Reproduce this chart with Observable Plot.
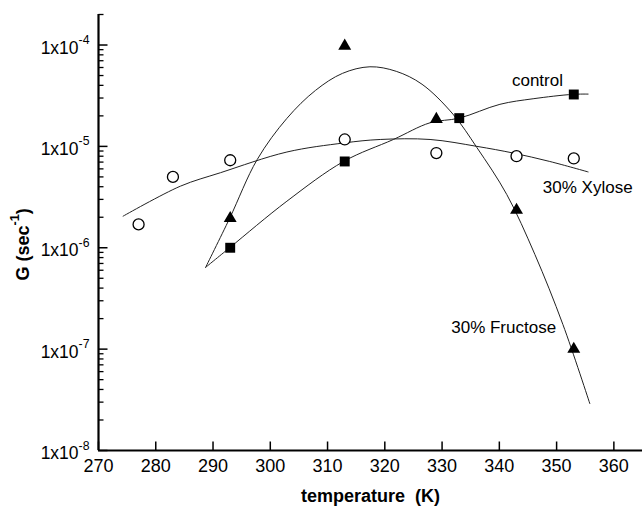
<!DOCTYPE html>
<html><head><meta charset="utf-8">
<script src="https://cdn.jsdelivr.net/npm/d3@7"></script>
<script src="https://cdn.jsdelivr.net/npm/@observablehq/plot@0.6"></script>
<style>body{margin:0;background:#fff} svg{display:block}</style>
</head><body><div id="chart"></div>
<script>
// measured points
const xylT = [277, 283, 293, 313, 329, 343, 353];
const xylG = [1.7e-6, 5.0e-6, 7.3e-6, 1.17e-5, 8.6e-6, 8.0e-6, 7.6e-6];
const ctlT = [293, 313, 333, 353];
const ctlG = [1.0e-6, 7.1e-6, 1.9e-5, 3.25e-5];
const fruT = [293, 313, 329, 343, 353];
const fruG = [1.95e-6, 9.8e-5, 1.85e-5, 2.35e-6, 1.0e-7];
// fitted curves
const xylFitT = [274.3, 284.3, 291.3, 302.9, 312.8, 319.2, 327.9, 336.1, 342.4, 348.8, 355.5];
const xylFitG = [2.05e-6, 4.05e-6, 5.5e-6, 8.8e-6, 1.08e-5, 1.17e-5, 1.17e-5, 1.0e-5, 8.6e-6, 7.1e-6, 5.6e-6];
const ctlFitT = [288.7, 292.9, 302.9, 312.8, 321.5, 327.9, 333.0, 340.1, 345.9, 352.8, 355.5];
const ctlFitG = [6.4e-7, 1.0e-6, 2.88e-6, 7.1e-6, 1.17e-5, 1.71e-5, 1.9e-5, 2.6e-5, 2.95e-5, 3.26e-5, 3.28e-5];
const fruFitT = [288.7, 292.9, 297.7, 302.9, 307.9, 312.6, 317.4, 322.0, 326.5, 331.9, 336.1, 341.3, 346.2, 351.1, 355.8];
const fruFitG = [6.4e-7, 1.95e-6, 7.4e-6, 1.89e-5, 3.57e-5, 5.25e-5, 6.1e-5, 5.5e-5, 4.1e-5, 2.08e-5, 9.7e-6, 3.35e-6, 8.6e-7, 1.75e-7, 2.9e-8];
// series labels (anchored in data coordinates)
const labelText = ["control", "30% Xylose", "30% Fructose"];
const labelT = [342.2, 347.6, 331.6];
const labelG = [4.5e-5, 3.96e-6, 1.65e-7];
// axes
const xDomain = [270, 365];
const yDomain = [1e-8, 2e-4];
const xTicks = [270, 280, 290, 300, 310, 320, 330, 340, 350, 360];
const yTicks = [1e-8, 1e-7, 1e-6, 1e-5, 1e-4];
const yTickLabels = ["1x10^{-8}", "1x10^{-7}", "1x10^{-6}", "1x10^{-5}", "1x10^{-4}"];
const minorMult = [2, 3, 4, 5, 6, 7, 8, 9];
const yMinor = [1e-8, 1e-7, 1e-6, 1e-5, 1e-4].flatMap(d => minorMult.map(m => m * d)).filter(v => v <= 2e-4);
const xTitle = "temperature\u00a0 (K)";
const yTitle = "G (sec^{-1})";
const yTitleAt = [270, 1.08e-6]; // anchor of the rotated y title (data coords)

const rows = (T, G) => T.map((t, i) => ({T: t, G: G[i]}));
const fits = [
  ...rows(xylFitT, xylFitG).map(d => ({...d, s: "xyl"})),
  ...rows(ctlFitT, ctlFitG).map(d => ({...d, s: "ctl"})),
  ...rows(fruFitT, fruFitG).map(d => ({...d, s: "fru"}))
];
const labels = labelText.map((t, i) => ({t, T: labelT[i], G: labelG[i]}));

const W = 642, H = 508, mL = 98, mR = 0, mT = 14, mB = 58;
const fw = W - mL - mR, fh = H - mT - mB;
// convert pixel tick lengths into scale units so the ticks point inward
const kx = (xDomain[1] - xDomain[0]) / fw;
const ky = Math.log10(yDomain[1] / yDomain[0]) / fh;
const xTickLen = 9, yMajLen = 9, yMinLen = 5;
const xTickRows = xTicks.map(t => ({x1: t, x2: t, y1: yDomain[0], y2: yDomain[0] * Math.pow(10, xTickLen * ky)}));
const yMajRows = yTicks.map(v => ({x1: xDomain[0], x2: xDomain[0] + yMajLen * kx, y1: v, y2: v}));
const yMinRows = yMinor.map(v => ({x1: xDomain[0], x2: xDomain[0] + yMinLen * kx, y1: v, y2: v}));

const plot = Plot.plot({
  width: W, height: H,
  marginLeft: mL, marginRight: mR, marginTop: mT, marginBottom: mB,
  style: {fontFamily: "'Liberation Sans', Arial, sans-serif", background: "white", color: "black"},
  x: {domain: xDomain},
  y: {type: "log", domain: yDomain},
  marks: [
    Plot.axisX({ticks: xTicks, tickSize: 0, tickPadding: 9, fontSize: 18, label: null, tickFormat: d => String(d)}),
    Plot.axisY({ticks: yTicks, tickSize: 0, tickPadding: 9, fontSize: 17.5, dy: 3, label: null,
      tickFormat: d => yTickLabels[yTicks.indexOf(d)]}),
    Plot.line(fits, {x: "T", y: "G", z: "s", stroke: "#222", strokeWidth: 1, curve: "catmull-rom"}),
    Plot.dot(rows(xylT, xylG), {x: "T", y: "G", r: 5.5, stroke: "black", fill: "white", strokeWidth: 1.3}),
    Plot.dot(rows(ctlT, ctlG), {x: "T", y: "G", symbol: "square", r: 5.6, fill: "black"}),
    Plot.dot(rows(fruT, fruG), {x: "T", y: "G", symbol: "triangle", r: 4.8, fill: "black"}),
    Plot.text(labels, {x: "T", y: "G", text: "t", textAnchor: "start", fontSize: 17}),
    Plot.text([xTitle], {frameAnchor: "bottom", dy: 51, fontWeight: "bold", fontSize: 18}),
    Plot.text([yTitle], {x: () => yTitleAt[0], y: () => yTitleAt[1], text: d => d, rotate: -90, dx: -75.4,
      fontWeight: "bold", fontSize: 18}),
    // inward tick marks
    Plot.link(xTickRows, {x1: "x1", x2: "x2", y1: "y1", y2: "y2", stroke: "black", strokeWidth: 1.5}),
    Plot.link(yMajRows, {x1: "x1", x2: "x2", y1: "y1", y2: "y2", stroke: "black", strokeWidth: 1.5}),
    Plot.link(yMinRows, {x1: "x1", x2: "x2", y1: "y1", y2: "y2", stroke: "black", strokeWidth: 1.3}),
    Plot.ruleX([xDomain[0]], {strokeWidth: 2.2}),
    Plot.ruleY([yDomain[0]], {strokeWidth: 2.2})
  ]
});

function supify(svg) {
  const ns = "http://www.w3.org/2000/svg";
  svg.querySelectorAll("text").forEach(t => {
    const m = t.textContent.match(/^(.*)\^\{(.*?)\}(.*)$/);
    if (!m) return;
    while (t.firstChild) t.removeChild(t.firstChild);
    const a = document.createElementNS(ns, "tspan"); a.textContent = m[1]; t.appendChild(a);
    const b = document.createElementNS(ns, "tspan"); b.textContent = m[2];
    b.setAttribute("dy", "-0.78em"); b.setAttribute("font-size", "0.7em"); t.appendChild(b);
    if (m[3]) {
      const c = document.createElementNS(ns, "tspan"); c.textContent = m[3];
      c.setAttribute("dy", "0.546em"); t.appendChild(c);
    }
  });
}
supify(plot);
document.getElementById("chart").appendChild(plot);
</script>
</body></html>
